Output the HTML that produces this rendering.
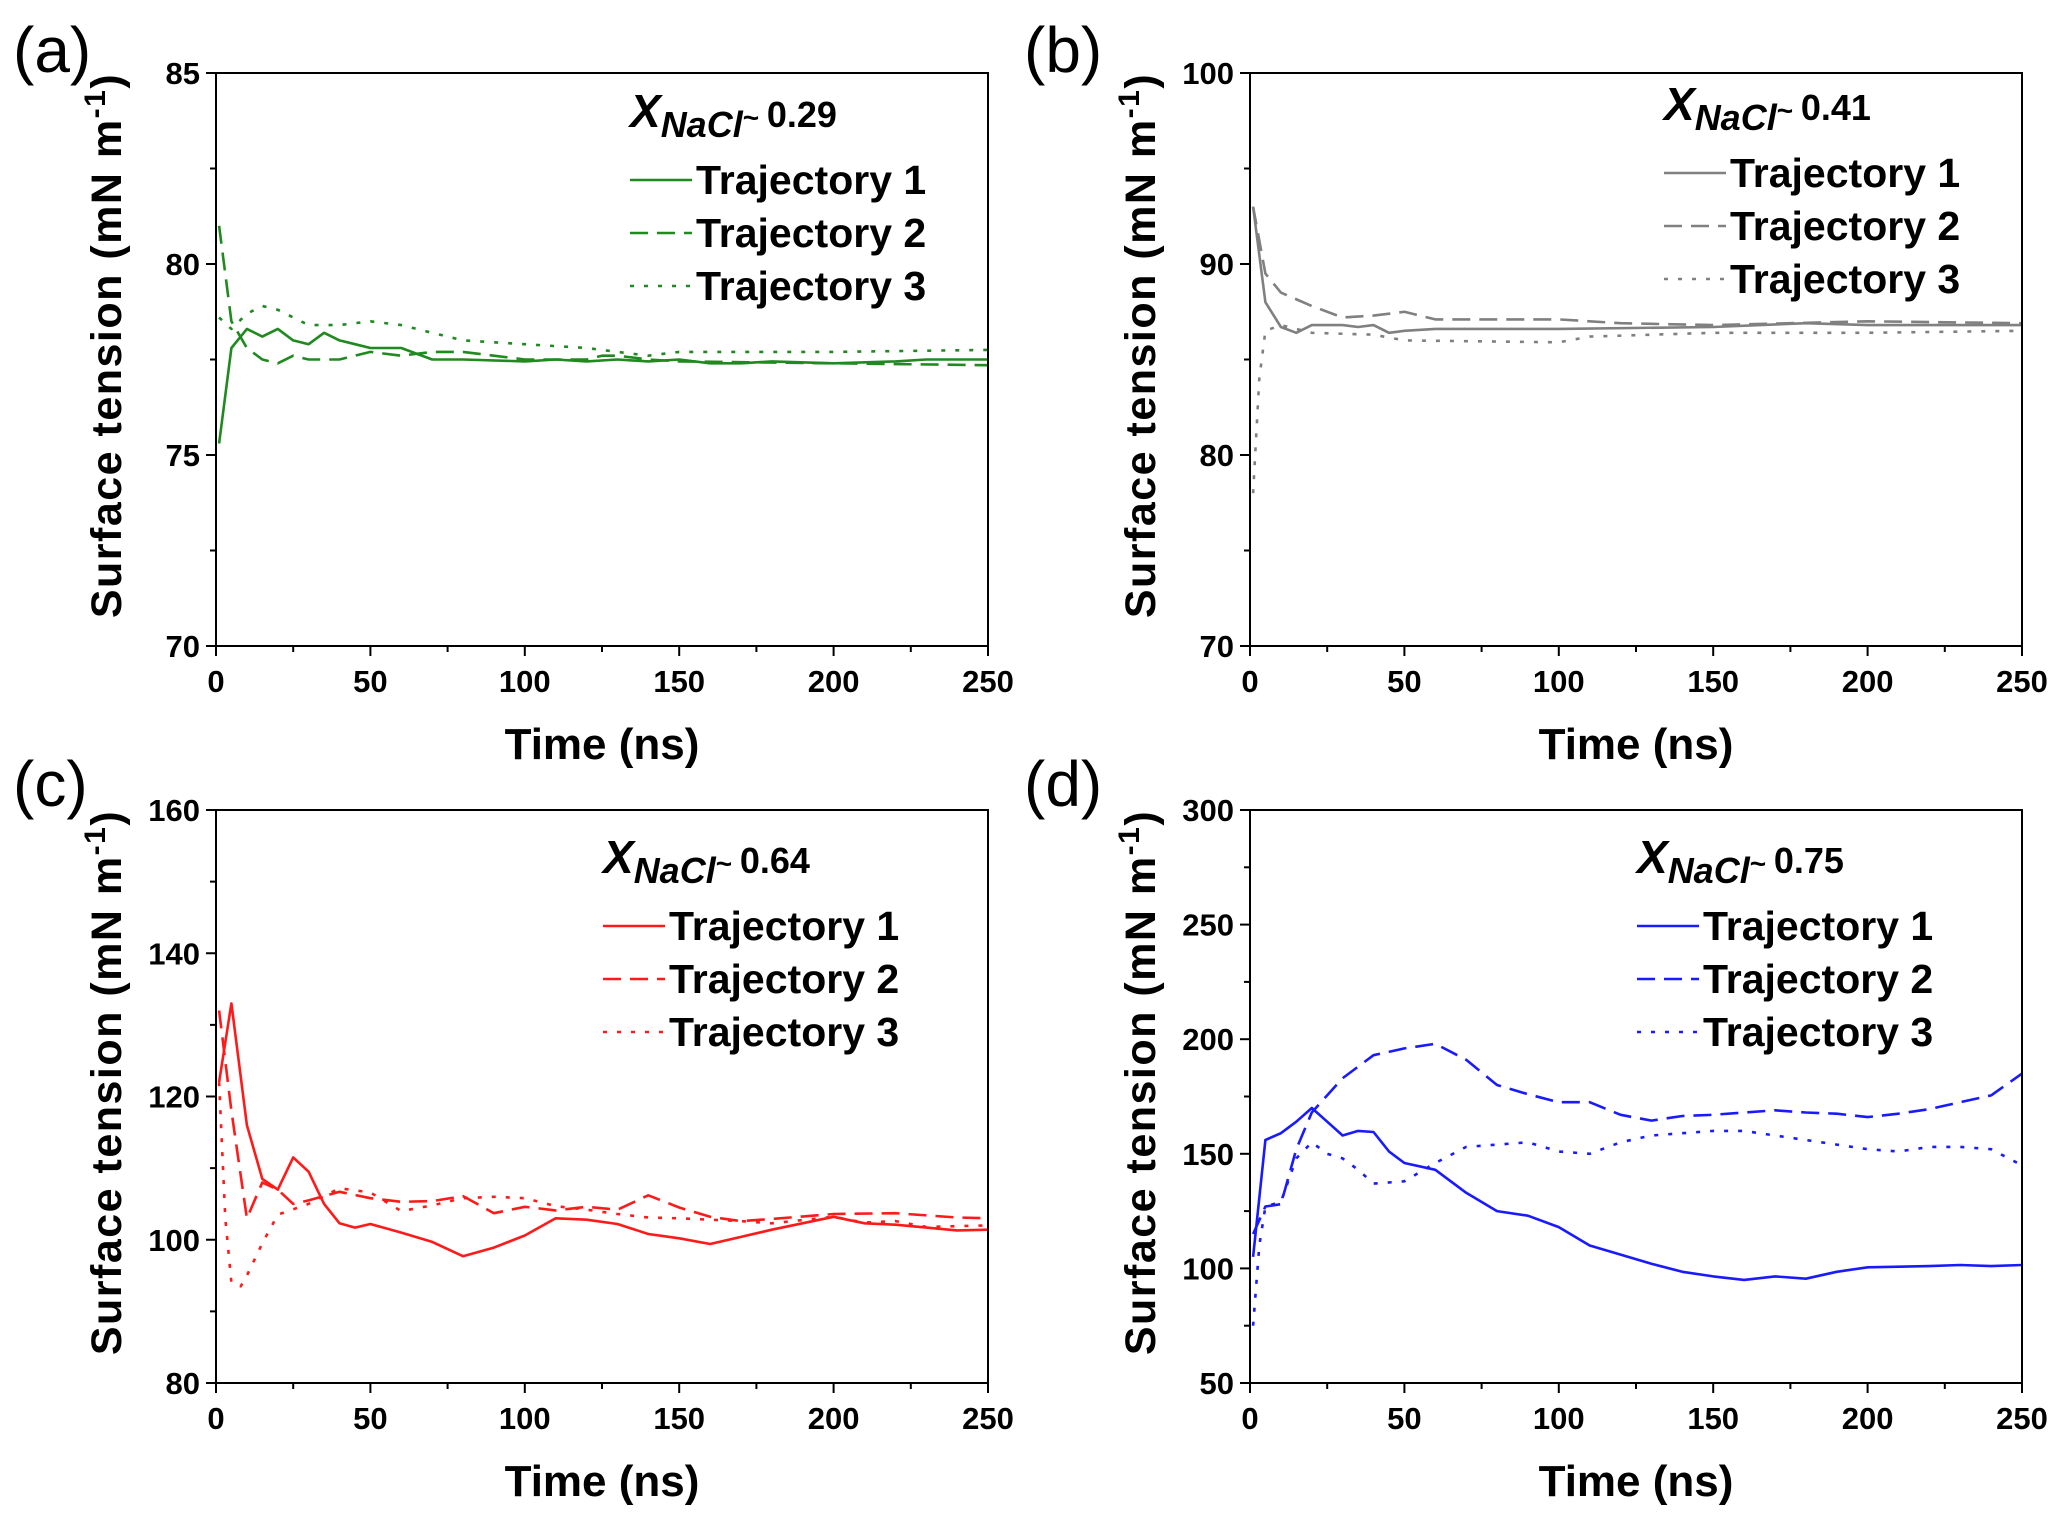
<!DOCTYPE html>
<html><head><meta charset="utf-8">
<style>
html,body{margin:0;padding:0;background:#fff;}
svg{display:block;}
text{font-family:"Liberation Sans",sans-serif;font-weight:bold;}
.pl{font-family:"Liberation Sans",sans-serif;font-weight:normal;}
</style></head>
<body>
<svg id="fig" width="2067" height="1525" viewBox="0 0 2067 1525" xmlns="http://www.w3.org/2000/svg"></svg>
<script>
// ---- data (time in ns, tension in mN/m) ----
const aT1x=[1,5,10,15,20,25,30,35,40,45,50,60,70,80,100,110,120,130,140,150,160,170,180,200,220,230,250];
const aT1y=[75.3,77.8,78.3,78.1,78.3,78.0,77.9,78.2,78.0,77.9,77.8,77.8,77.5,77.5,77.45,77.5,77.45,77.5,77.45,77.5,77.4,77.4,77.45,77.4,77.45,77.5,77.5];
const aT2x=[1,5,10,15,20,25,30,40,50,60,70,80,90,100,120,125,130,140,150,200,250];
const aT2y=[81.0,78.5,77.8,77.5,77.4,77.6,77.5,77.5,77.7,77.6,77.7,77.7,77.6,77.5,77.5,77.6,77.6,77.5,77.45,77.4,77.35];
const aT3x=[1,5,10,15,20,30,40,50,60,70,80,100,120,130,140,150,200,250];
const aT3y=[78.6,78.3,78.7,78.9,78.8,78.4,78.4,78.5,78.4,78.2,78.0,77.9,77.8,77.7,77.6,77.7,77.7,77.75];

const bT1x=[1,5,10,15,20,30,35,40,45,50,60,100,150,180,200,250];
const bT1y=[93,88,86.7,86.4,86.8,86.8,86.7,86.8,86.4,86.5,86.6,86.6,86.7,86.9,86.8,86.8];
const bT2x=[1,5,10,20,30,40,50,60,100,120,150,200,250];
const bT2y=[93,89.5,88.5,87.8,87.2,87.3,87.5,87.1,87.1,86.9,86.8,87.0,86.9];
const bT3x=[1,3,5,10,20,40,50,100,110,150,200,250];
const bT3y=[78,84,86.5,86.8,86.4,86.3,86.0,85.9,86.2,86.4,86.4,86.5];

const cT1x=[1,5,10,15,20,25,30,35,40,45,50,60,70,80,90,100,110,120,130,140,150,160,170,180,200,210,220,230,240,250];
const cT1y=[122,133,116,108.5,107,111.5,109.5,105,102.3,101.7,102.2,101,99.7,97.7,98.9,100.6,103,102.8,102.2,100.8,100.2,99.4,100.4,101.4,103.2,102.3,102.1,101.7,101.3,101.4];
const cT2x=[1,5,10,15,20,25,30,40,50,60,70,80,90,100,110,120,130,140,150,160,170,180,200,220,240,250];
const cT2y=[132,118,103,108,107,105,105.5,106.7,105.8,105.3,105.4,106.1,103.7,104.6,104.1,104.6,104.2,106.2,104.5,103.2,102.6,102.9,103.6,103.7,103.1,103.0];
const cT3x=[1,3,5,8,10,15,20,30,40,50,60,70,80,90,100,110,120,130,140,150,170,180,200,210,220,230,250];
const cT3y=[122,103,94,93.5,95,99.5,103.5,105,107.2,106.6,104,104.8,105.8,106,105.8,104.7,104.2,103.6,103.1,103,102.6,102.3,103.2,102.4,102.6,101.8,102];

const dT1x=[1,5,10,15,20,25,30,35,40,45,50,60,70,80,90,100,110,120,130,140,150,160,170,180,190,200,220,230,240,250];
const dT1y=[105,156,159,164,170,164,158,160,159.5,151,146,143,133,125,123,118,110,106,102,98.5,96.5,95,96.5,95.5,98.5,100.5,101,101.5,101,101.5];
const dT2x=[1,5,10,15,20,30,40,50,60,70,80,90,100,110,120,130,140,150,160,170,180,190,200,210,220,230,240,250];
const dT2y=[115,127,128,152,168,183,193,196,198,191,180,176,172.5,172.5,167,164.5,166.5,167,168,169,168,167.5,166,167.5,169.5,172.5,175.5,185];
const dT3x=[1,3,5,10,15,20,25,30,35,40,50,60,70,80,90,100,110,120,130,140,150,160,170,180,190,200,210,220,230,240,250];
const dT3y=[75,110,127,129,148,155,150,148,143,137,138,146,153,154,155,151,150,155,158,159,160,160,158,156,154,152,151,153,153,152,145];

const xTicks=[0,50,100,150,200,250];
const aTicks=[70,75,80,85], bTicks=[70,80,90,100], cTicks=[80,100,120,140,160], dTicks=[50,100,150,200,250,300];
const labels=["(a)","(b)","(c)","(d)"];
const xvals=["0.29","0.41","0.64","0.75"];

const NS="http://www.w3.org/2000/svg";
const svg=document.getElementById('fig');
function mk(tag,attrs,parent){const e=document.createElementNS(NS,tag);for(const k in attrs)e.setAttribute(k,attrs[k]);(parent||svg).appendChild(e);return e;}

const W=772,H=573;
const panels=[
 {ox:216,oy:73,ticks:aTicks,minor:2.5,color:"#1f8a1f",series:[[aT1x,aT1y],[aT2x,aT2y],[aT3x,aT3y]],lx:414,ly:107,lbl:[13,72]},
 {ox:1250,oy:73,ticks:bTicks,minor:5,color:"#808080",series:[[bT1x,bT1y],[bT2x,bT2y],[bT3x,bT3y]],lx:414,ly:100,lbl:[1024,72]},
 {ox:216,oy:810,ticks:cTicks,minor:10,color:"#ff1a1a",series:[[cT1x,cT1y],[cT2x,cT2y],[cT3x,cT3y]],lx:387,ly:116,lbl:[13,806]},
 {ox:1250,oy:810,ticks:dTicks,minor:25,color:"#1a1aff",series:[[dT1x,dT1y],[dT2x,dT2y],[dT3x,dT3y]],lx:387,ly:116,lbl:[1024,806]}
];
const dashes=["none","18 9","4 10"];

panels.forEach((p,i)=>{
  const g=mk('g',{});
  
  
  const ymin=p.ticks[0], ymax=p.ticks[p.ticks.length-1];
  const sx=v=>p.ox+v/250*W;
  const sy=v=>p.oy+H-(v-ymin)/(ymax-ymin)*H;
  const pl=mk('text',{x:p.lbl[0],y:p.lbl[1],'font-size':64,class:'pl'},g);
  pl.textContent=labels[i];
  
  
  for(let v=0;v<=250;v+=25){
    const major=v%50===0;
    const t=mk('line',{x1:sx(v),x2:sx(v),y1:p.oy+H,y2:p.oy+H+(major?10:6),stroke:'#000','stroke-width':2},g);
    
    
  }
  xTicks.forEach(v=>{
    const t=mk('text',{x:sx(v),y:p.oy+H+46,'font-size':31,'text-anchor':'middle'},g);
    t.textContent=v;
    
    
  });
  for(let v=ymin;v<=ymax+1e-9;v+=p.minor){
    const major=p.ticks.some(t=>Math.abs(t-v)<1e-9);
    const t=mk('line',{x1:p.ox-(major?10:6),x2:p.ox,y1:sy(v),y2:sy(v),stroke:'#000','stroke-width':2},g);
    
    
  }
  p.ticks.forEach(v=>{
    const t=mk('text',{x:p.ox-16,y:sy(v)+11,'font-size':31,'text-anchor':'end'},g);
    t.textContent=v;
    
    
  });
  const xt=mk('text',{x:p.ox+W/2,y:p.oy+H+113,'font-size':44,'text-anchor':'middle'},g);
  xt.textContent='Time (ns)';
  
  
  const cx=p.ox-95, cy=p.oy+H/2-14;
  const yt=mk('text',{x:cx,y:cy,'font-size':43,'text-anchor':'middle',transform:`rotate(-90 ${cx} ${cy})`,'letter-spacing':'1.5'},g);
  yt.innerHTML='Surface tension (mN m<tspan dy="-16" font-size="30">-1</tspan><tspan dy="16">)</tspan>';
  
  
  p.series.forEach((s,k)=>{
    const d=s[0].map((x,j)=>(j?'L':'M')+sx(x).toFixed(1)+' '+sy(s[1][j]).toFixed(1)).join(' ');
    const path=mk('path',{d:d,fill:'none',stroke:p.color,'stroke-width':2.6,'stroke-dasharray':dashes[k],'stroke-linejoin':'round'},g);
    
    
  });
  const fr=mk('rect',{x:p.ox,y:p.oy,width:W,height:H,fill:'none',stroke:'#000','stroke-width':2},g);
  
  
  const lg=mk('g',{},g);
  
  
  const lx=p.ox+p.lx, ly=p.oy+p.ly;
  const tt=mk('text',{x:lx,y:ly-53,'font-size':46,'font-style':'italic'},lg);
  tt.innerHTML='X<tspan dy="10" font-size="36">NaCl</tspan><tspan dy="-10" font-size="28" font-style="normal">~ </tspan><tspan font-size="36" font-style="normal">'+xvals[i]+'</tspan>';
  
  
  for(let k=0;k<3;k++){
    const y=ly+k*53;
    const ln=mk('line',{x1:lx,x2:lx+62,y1:y,y2:y,stroke:p.color,'stroke-width':2.6,'stroke-dasharray':dashes[k]},lg);
    
    
    const tx=mk('text',{x:lx+66,y:y+14,'font-size':41},lg);
    tx.textContent='Trajectory '+(k+1);
    
    
  }
});
</script>
</body></html>
